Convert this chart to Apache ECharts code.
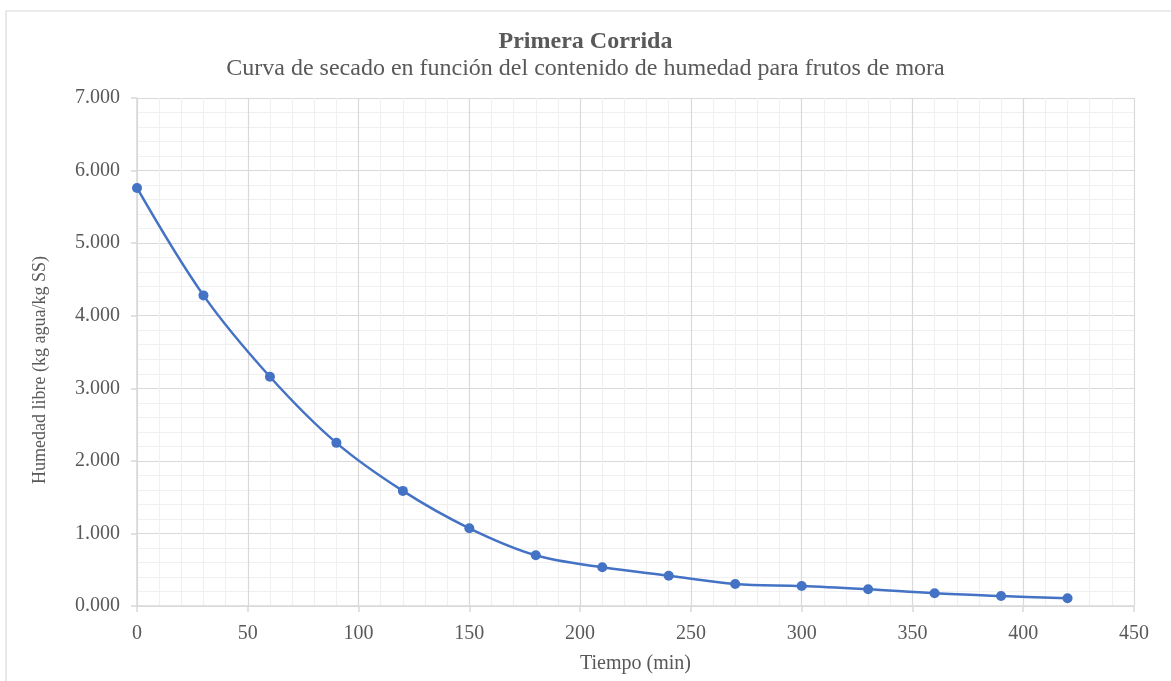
<!DOCTYPE html>
<html>
<head>
<meta charset="utf-8">
<script src="https://cdn.jsdelivr.net/npm/echarts@6/dist/echarts.min.js"></script>
<style>
  html, body { margin: 0; padding: 0; background: #fff; }
  #chart { width: 1171px; height: 681px; }
</style>
</head>
<body>
<div id="chart"></div>
<script>
// Drying run: free moisture vs time
const tiempoMin = [0, 30, 60, 90, 120, 150, 180, 210, 240, 270, 300, 330, 360, 390, 420];
const humedadLibre = [5.761, 4.280, 3.159, 2.248, 1.586, 1.071, 0.699, 0.534, 0.418, 0.303, 0.276, 0.230, 0.175, 0.138, 0.106];

const titulo = 'Primera Corrida';
const subtitulo = 'Curva de secado en función del contenido de humedad para frutos de mora';
const nombreX = 'Tiempo (min)';
const nombreY = 'Humedad libre (kg agua/kg SS)';

const serif = '"Liberation Serif", "Times New Roman", serif';
const textColor = '#595959';

const chart = echarts.init(document.getElementById('chart'), null, { renderer: 'canvas' });

chart.setOption({
  animation: false,
  backgroundColor: '#ffffff',
  graphic: [
    {
      type: 'polyline',
      shape: { points: [[6, 681], [6, 11], [1171, 11]] },
      style: { stroke: '#d9d9d9', lineWidth: 1.2, fill: null },
      silent: true
    },
    {
      // vertical axis title
      type: 'text',
      x: 40,
      y: 370,
      rotation: Math.PI / 2,
      style: {
        text: nombreY,
        fontFamily: serif,
        fontSize: 18,
        fill: textColor,
        align: 'center',
        verticalAlign: 'middle'
      },
      silent: true
    }
  ],
  title: [
    {
      text: titulo,
      left: 'center',
      top: 25,
      textStyle: { fontFamily: serif, fontSize: 24, fontWeight: 'bold', color: textColor }
    },
    {
      text: subtitulo,
      left: 'center',
      top: 52,
      textStyle: { fontFamily: serif, fontSize: 24, fontWeight: 'normal', color: textColor }
    }
  ],
  grid: { left: 137, right: 37, top: 98, bottom: 75, containLabel: false },
  xAxis: {
    type: 'value',
    min: 0,
    max: 450,
    interval: 50,
    name: nombreX,
    nameLocation: 'middle',
    nameGap: 48,
    nameTextStyle: { fontFamily: serif, fontSize: 20, color: textColor },
    axisLine: { show: true, onZero: false, lineStyle: { color: '#d9d9d9', width: 1.5 } },
    axisTick: { show: true, length: 6, lineStyle: { color: '#d9d9d9', width: 1.5 } },
    axisLabel: { fontFamily: serif, fontSize: 20, color: textColor, margin: 18 },
    splitLine: { show: true, lineStyle: { color: '#d9d9d9', width: 1.2 } },
    minorTick: { show: false, splitNumber: 5 },
    minorSplitLine: { show: true, lineStyle: { color: '#f0f0f0', width: 1.2 } }
  },
  yAxis: {
    type: 'value',
    min: 0,
    max: 7,
    interval: 1,
    axisLine: { show: true, lineStyle: { color: '#d9d9d9', width: 1.5 } },
    axisTick: { show: true, length: 6, lineStyle: { color: '#d9d9d9', width: 1.5 } },
    axisLabel: {
      fontFamily: serif, fontSize: 20, color: textColor, margin: 17,
      padding: [6, 0, 0, 0],
      formatter: v => v.toFixed(3)
    },
    splitLine: { show: true, lineStyle: { color: '#d9d9d9', width: 1.2 } },
    minorTick: { show: false, splitNumber: 5 },
    minorSplitLine: { show: true, lineStyle: { color: '#f0f0f0', width: 1.2 } }
  },
  series: [
    {
      type: 'line',
      data: tiempoMin.map((t, i) => [t, humedadLibre[i]]),
      smooth: 0.35,
      symbol: 'circle',
      symbolSize: 10,
      lineStyle: { color: '#4472C4', width: 2.5 },
      itemStyle: { color: '#4472C4' }
    }
  ]
});
</script>
</body>
</html>
